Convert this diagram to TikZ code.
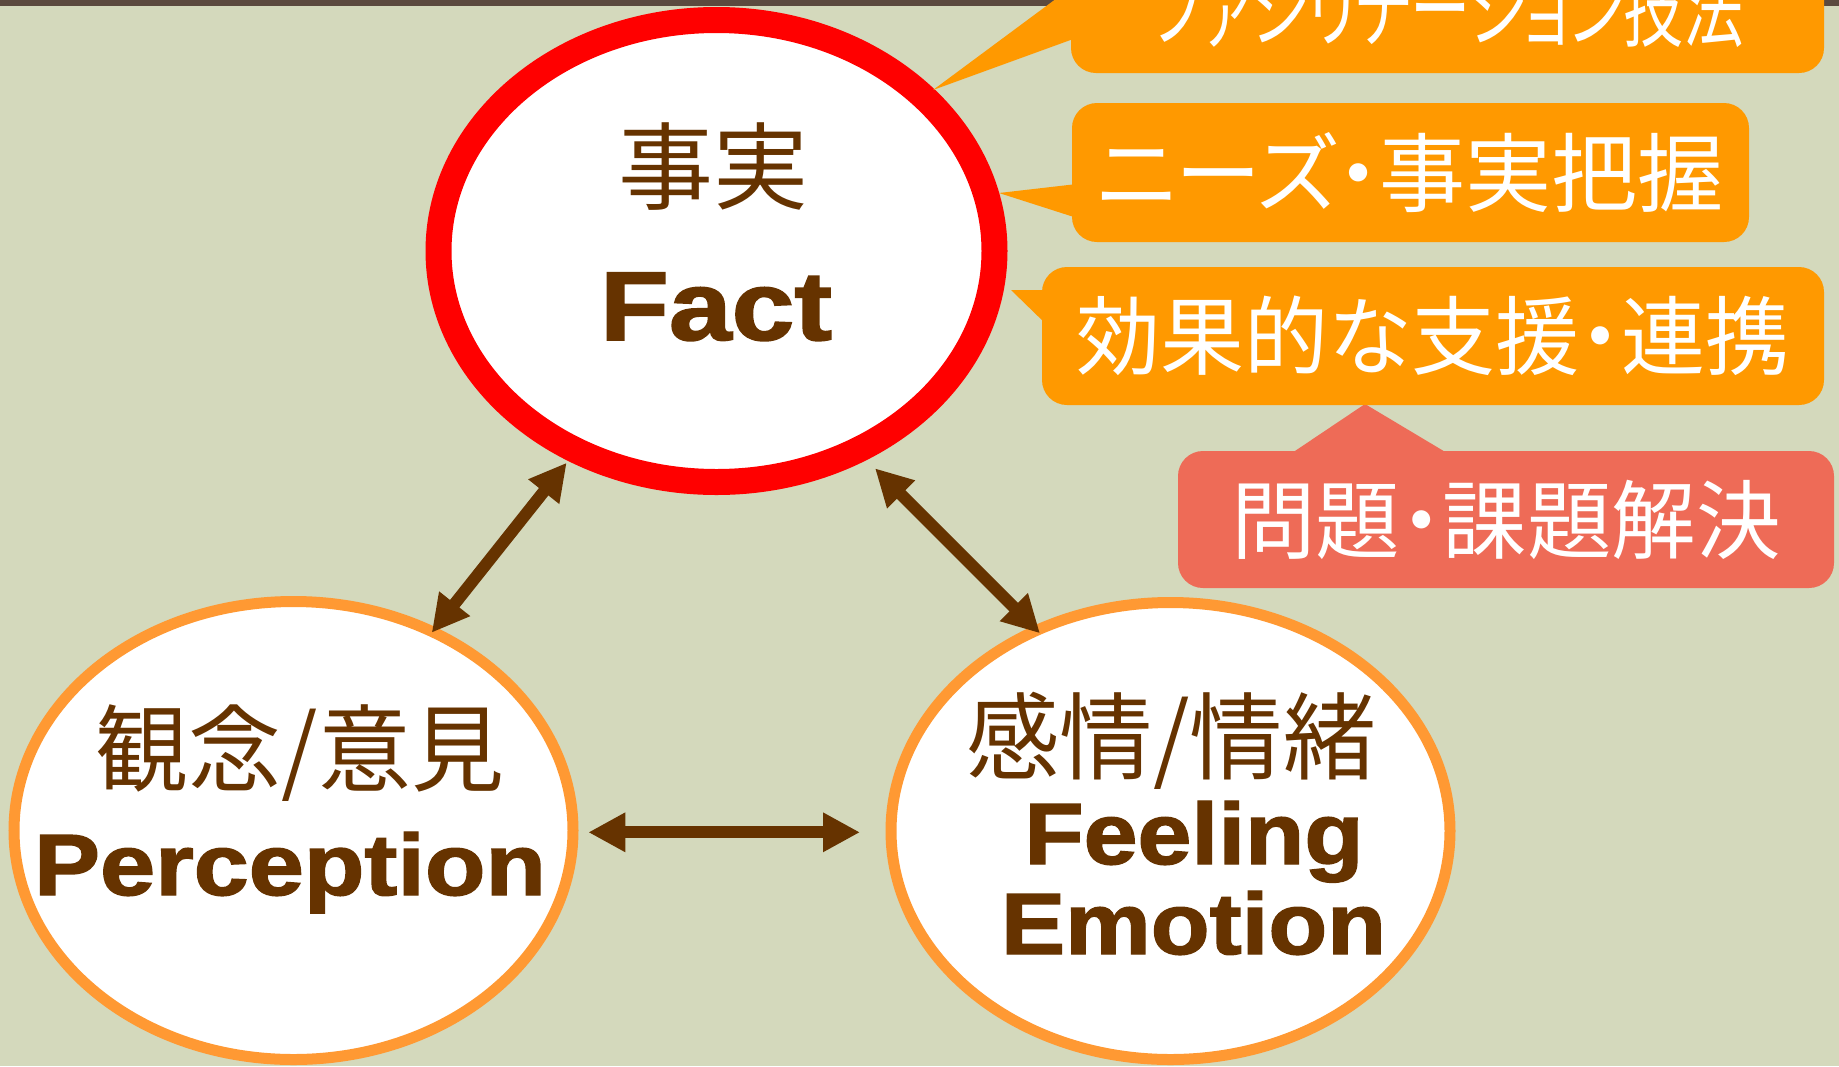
\documentclass[tikz,border=0pt]{standalone}
\usepackage{fontspec}
\usepackage{graphicx}
\setmainfont{Liberation Sans}[BoldFont={Liberation Sans Bold}, BoldFeatures={FakeBold=1.6}]
\newfontfamily\jpfont{Noto Sans CJK JP}
\newfontfamily\jpprop{Noto Sans CJK JP}[RawFeature=+palt]
\usetikzlibrary{shapes.geometric,arrows.meta,calc}
\definecolor{bg}{HTML}{D4D9BC}
\definecolor{topbar}{HTML}{5B4A3F}
\definecolor{brownA}{HTML}{663300}
\definecolor{ringorange}{HTML}{FF9933}
\definecolor{calloutorange}{HTML}{FF9900}
\definecolor{salmon}{HTML}{EE6B57}
\definecolor{ringred}{HTML}{FF0000}
\newcommand{\fitw}[2]{\resizebox{#1pt}{\height}{#2}}
\begin{document}
\begin{tikzpicture}[x=1pt,y=-1pt,
  ring/.style={ellipse, fill=white, inner sep=0pt},
  link/.style={draw=brownA, line width=12pt, {Triangle[length=37pt,width=37pt]}-{Triangle[length=37pt,width=37pt]}},
  jptext/.style={text=brownA, inner sep=0pt, font=\jpfont\fontsize{95}{100}\selectfont},
  entext/.style={text=brownA, inner sep=0pt, anchor=base, font=\bfseries\fontsize{87}{90}\selectfont},
  callout/.style={rectangle, rounded corners=25pt, inner sep=0pt, text=white, font=\jpprop\fontsize{86}{90}\selectfont},
]
\useasboundingbox (0,0) rectangle (1839,1066);
\fill[bg] (0,0) rectangle (1839,1066);
\fill[topbar] (0,0) rectangle (1839,6);

% circles
\node[ring, draw=ringred, line width=26pt, outer sep=13pt, minimum width=556pt, minimum height=462pt] (fact) at (716.5,251) {};
\node[ring, draw=ringorange, line width=11pt, outer sep=0pt, minimum width=559pt, minimum height=458pt] (perc) at (293.5,830.5) {};
\node[ring, draw=ringorange, line width=11pt, outer sep=0pt, minimum width=559pt, minimum height=457pt] (feel) at (1170.5,831) {};

% texts in circles
\node[jptext] (factjp) at (713,166.5) {\fitw{190}{事実}};
\node[entext, font=\bfseries\fontsize{98}{100}\selectfont] (facten) at (716,340) {\fitw{232}{Fact}};
\node[jptext] (percjp) at (300,753.5) {\fitw{408}{観念/意見}};
\node[entext] (percen) at (290,895) {\fitw{512}{Perception}};
\node[jptext] (feeljp) at (1171.5,740.5) {\fitw{410}{感情/情緒}};
\node[entext] (feelen) at (1194,864) {\fitw{339}{Feeling}};
\node[entext] (emoen) at (1193.5,954) {\fitw{385}{Emotion}};

% connectors
\draw[link] ($(fact.center)+(-149.8,211.7)$) -- ($(perc.center)+(138.2,-197.8)$);
\draw[link] ($(fact.center)+(158.5,217.3)$) -- ($(feel.center)+(-130.5,-197.7)$);
\draw[link] ($(perc.center)+(294.8,1.8)$) -- ($(feel.center)+(-310.5,1.3)$);

% callouts
\fill[salmon] (1365,404) -- (1287.5,456) -- (1452,456) -- cycle;
\node[callout, fill=salmon, minimum width=656pt, minimum height=137pt] (c4) at (1506,519.5) {\fitw{549}{問題・課題解決}};

\fill[calloutorange] (933,90) -- (1076,-16) -- (1076,38) -- cycle;
\node[callout, fill=calloutorange, minimum width=753pt, minimum height=130pt] (c1) at (1447.5,8) {\fitw{592}{ファシリテーション技法}};

\fill[calloutorange] (999,193) -- (1077,184) -- (1077,218) -- cycle;
\node[callout, fill=calloutorange, minimum width=677pt, minimum height=139pt] (c2) at (1410.5,172.5) {\fitw{627}{ニーズ・事実把握}};

\fill[calloutorange] (1011,290) -- (1047,290) -- (1047,325) -- cycle;
\node[callout, fill=calloutorange, minimum width=782pt, minimum height=138pt] (c3) at (1433,336) {\fitw{713}{効果的な支援・連携}};
\end{tikzpicture}
\end{document}
